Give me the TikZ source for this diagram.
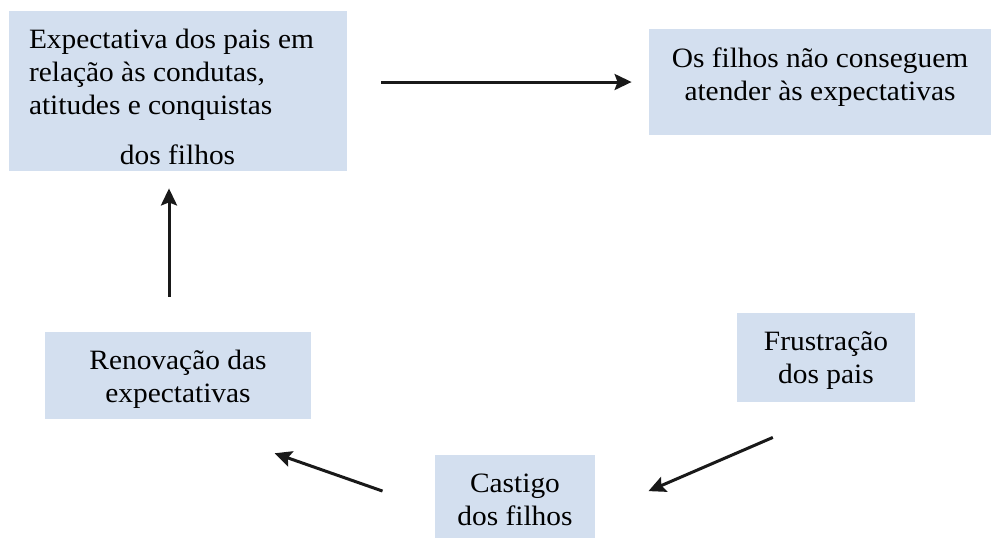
\documentclass[tikz,border=0pt]{standalone}
\usepackage{fontspec}
\setmainfont{Liberation Serif}[FakeStretch=1.05]
\usetikzlibrary{arrows.meta}
\definecolor{boxblue}{RGB}{211,223,239}
% width, height, first baseline, text
\newcommand{\boxtext}[4]{\parbox[c][#2][t]{#1}{\centering\rule{0pt}{#3}#4}}

\begin{document}
\begin{tikzpicture}[x=0.5pt, y=-0.5pt,
	n_box/.style={
		rectangle,
		fill=boxblue,
		inner sep=0pt,
		font=\fontsize{14}{16.5}\selectfont,
		},
	n_arr/.style={
		-{Stealth[length=8.5pt,width=8pt,inset=1.5pt]},
		line width=1.5pt,
		draw=black!90,
		}]
	\useasboundingbox (0,0) rectangle (991,538);

	\node(expect)[n_box] at (178,91){\parbox[c][80pt][t]{169pt}{\raggedright\leftskip=10pt\rule{0pt}{18.5pt}Expectativa dos pais em\\ relação às condutas,\\ atitudes e conquistas\\[8.5pt] \hspace*{45.5pt}dos filhos}};
	\node(fail)[n_box] at (820,82){\boxtext{171pt}{53pt}{19pt}{Os filhos não conseguem\\ atender às expectativas}};
	\node(frust)[n_box] at (826,357.5){\boxtext{89pt}{44.5pt}{18.5pt}{Frustração\\ dos pais}};
	\node(castigo)[n_box] at (515,496.5){\boxtext{80pt}{41.5pt}{18.5pt}{Castigo\\ dos filhos}};
	\node(renov)[n_box] at (178,375.5){\boxtext{133pt}{43.5pt}{18.5pt}{Renovação das\\ expectativas}};

	\path (expect.east |- fail.west) edge[n_arr, shorten <=17pt, shorten >=8.5pt] (fail.west);
	\path ([xshift=14pt]frust.south) edge[n_arr, shorten <=44.2pt, shorten >=28.9pt] ([yshift=-8.75pt]castigo.east);
	\path ([yshift=-6.4pt]castigo.west) edge[n_arr, shorten <=27.6pt, shorten >=51.2pt] (renov.south);
	\path ([xshift=-4.5pt]renov.north) edge[n_arr, shorten <=17.5pt, shorten >=8.5pt] ([xshift=-4.5pt]expect.south);

\end{tikzpicture}
\end{document}
